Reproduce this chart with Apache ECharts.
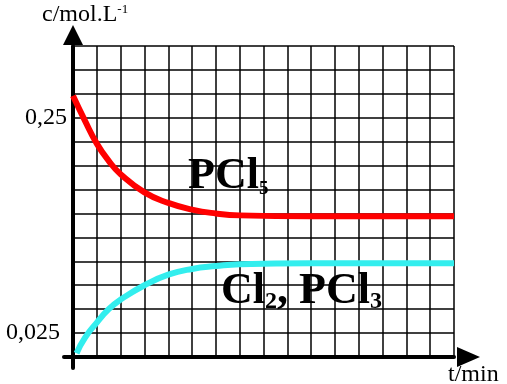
<!DOCTYPE html>
<html>
<head>
<meta charset="utf-8">
<script src="https://cdn.jsdelivr.net/npm/echarts@6/dist/echarts.min.js"></script>
<style>html,body{margin:0;padding:0;background:#fff;}#c{width:507px;height:384px;}</style>
</head>
<body>
<div id="c"></div>
<script>
// Data
var pcl5Times = [0, 0.5, 1, 1.5, 2, 3, 4, 5, 6, 7, 10, 16];
var pcl5Values = [0.273, 0.247, 0.223, 0.205, 0.191, 0.172, 0.161, 0.154, 0.150, 0.148, 0.147, 0.147];
var cl2Times = [0.15, 0.5, 1, 1.5, 2, 3, 4, 5, 6, 7, 10, 16];
var cl2Values = [0.004, 0.020, 0.036, 0.050, 0.060, 0.075, 0.086, 0.092, 0.095, 0.097, 0.098, 0.098];
var yTickValues = [0.025, 0.25];
var yTickLabels = ['0,025', '0,25'];
var xMin = 0, xMax = 16, xStep = 1;
var yMin = 0, yMax = 0.325, yStep = 0.025;

function pairs(xs, ys) { return xs.map(function (x, i) { return [x, ys[i]]; }); }

var serif = '"Liberation Serif", "Times New Roman", Times, serif';
var chart = echarts.init(document.getElementById('c'), null, {renderer: 'canvas'});
chart.setOption({
  animation: false,
  backgroundColor: '#fff',
  grid: [
    {left: 73, right: 53, top: 46, bottom: 27},
    {left: 73, right: 53, top: 46, bottom: 16},
    {left: 64, right: 53, top: 46, bottom: 27}
  ],
  xAxis: [
    {gridIndex: 0, type: 'value', min: xMin, max: xMax, interval: xStep,
     axisLine: {show: false}, axisTick: {show: false}, axisLabel: {show: false},
     splitLine: {show: true, lineStyle: {color: '#000', width: 1.5}}},
    {gridIndex: 1, type: 'value', min: xMin, max: xMax, show: false},
    {gridIndex: 2, type: 'value', min: xMin, max: xMax,
     axisLine: {show: true, onZero: false, lineStyle: {color: '#000', width: 4},
                symbol: ['none', 'triangle'], symbolSize: [20, 23], symbolOffset: [0, 14.5]},
     axisTick: {show: false}, axisLabel: {show: false}, splitLine: {show: false}}
  ],
  yAxis: [
    {gridIndex: 0, type: 'value', min: yMin, max: yMax, interval: yStep,
     axisLine: {show: false}, axisTick: {show: false},
     splitLine: {show: true, lineStyle: {color: '#000', width: 1.5}},
     axisLabel: {show: true, margin: 6, color: '#000', fontFamily: serif, fontSize: 24,
       formatter: function (v) {
         for (var i = 0; i < yTickValues.length; i++) {
           if (Math.abs(v - yTickValues[i]) < 1e-9) {
             return i === 0 ? '{b|' + yTickLabels[i] + '}' : '{a|' + yTickLabels[i] + '}';
           }
         }
         return '';
       },
       rich: {
         a: {fontFamily: serif, fontSize: 24, color: '#000'},
         b: {fontFamily: serif, fontSize: 24, color: '#000', padding: [0, 7, 0, 0]}
       }}},
    {gridIndex: 1, type: 'value', min: yMin, max: yMax,
     axisLine: {show: true, onZero: false, lineStyle: {color: '#000', width: 4},
                symbol: ['none', 'triangle'], symbolSize: [20, 20], symbolOffset: [0, 11]},
     axisTick: {show: false}, axisLabel: {show: false}, splitLine: {show: false}},
    {gridIndex: 2, type: 'value', min: yMin, max: yMax, show: false}
  ],
  title: [
    {text: '{m|c/mol.L}{s|-1}', left: 42, top: 3, padding: 0,
     textStyle: {rich: {
       m: {fontFamily: serif, fontSize: 24, fontWeight: 'normal', color: '#000', lineHeight: 24},
       s: {fontFamily: serif, fontSize: 13, fontWeight: 'normal', color: '#000', lineHeight: 13, verticalAlign: 'top'}
     }}},
    {text: 't/min', left: 448, top: 363, padding: 0,
     textStyle: {fontFamily: serif, fontSize: 24, fontWeight: 'normal', color: '#000', lineHeight: 24}},
    {text: '{m|PCl}{s|5}', left: 188, top: 155, padding: 0,
     textStyle: {rich: {
       m: {fontFamily: serif, fontSize: 44, fontWeight: 'bold', color: '#000', lineHeight: 44},
       s: {fontFamily: serif, fontSize: 19, fontWeight: 'bold', color: '#000', lineHeight: 8, verticalAlign: 'bottom'}
     }}},
    {text: '{m|Cl}{s|2}{m|, PCl}{s|3}', left: 221, top: 270, padding: 0,
     textStyle: {rich: {
       m: {fontFamily: serif, fontSize: 44, fontWeight: 'bold', color: '#000', lineHeight: 44},
       s: {fontFamily: serif, fontSize: 24, fontWeight: 'bold', color: '#000', lineHeight: 8, verticalAlign: 'bottom'}
     }}}
  ],
  series: [
    {type: 'line', xAxisIndex: 0, yAxisIndex: 0, data: pairs(pcl5Times, pcl5Values),
     smooth: 0.5, showSymbol: false, symbol: 'none',
     lineStyle: {color: '#ff0000', width: 6}, z: 5},
    {type: 'line', xAxisIndex: 0, yAxisIndex: 0, data: pairs(cl2Times, cl2Values),
     smooth: 0.5, showSymbol: false, symbol: 'none',
     lineStyle: {color: '#33eeee', width: 6}, z: 5}
  ]
});
</script>
</body>
</html>
